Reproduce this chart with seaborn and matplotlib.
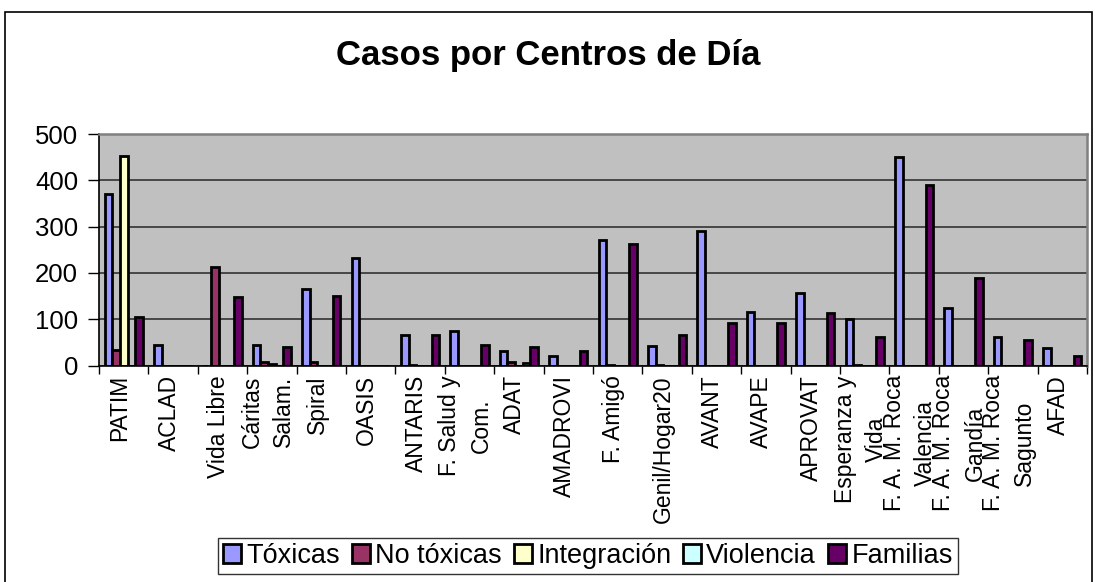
import matplotlib
matplotlib.use("Agg")
import matplotlib.pyplot as plt
import matplotlib.patches as mpatches
import matplotlib.transforms as mtransforms
from matplotlib.ticker import FixedLocator
import seaborn as sns
import pandas as pd
import numpy as np

categories = ["PATIM", "ACLAD", "Vida Libre", "Cáritas\nSalam.", "Spiral", "OASIS",
              "ANTARIS", "F. Salud y\nCom.", "ADAT", "AMADROVI", "F. Amigó",
              "Genil/Hogar20", "AVANT", "AVAPE", "APROVAT", "Esperanza y\nVida",
              "F. A. M. Roca\nValencia", "F. A. M. Roca\nGandía", "F. A. M. Roca\nSagunto", "AFAD"]
series_names = ["Tóxicas", "No tóxicas", "Integración", "Violencia", "Familias"]
toxicas     = [371, 45, 0, 45, 166, 232, 65, 74, 31, 21, 271, 43, 291, 116, 156, 100, 450, 125, 62, 38]
no_toxicas  = [34, 0, 212, 7, 8, 0, 1, 0, 7, 0, 1, 1, 0, 0, 0, 2, 0, 0, 0, 0]
integracion = [452, 0, 0, 4, 0, 0, 0, 0, 0, 0, 0, 0, 0, 0, 0, 0, 0, 0, 0, 0]
violencia   = [0, 0, 0, 0, 0, 0, 0, 0, 6, 0, 0, 0, 0, 0, 0, 0, 0, 0, 0, 0]
familias    = [105, 0, 147, 41, 151, 0, 66, 44, 41, 31, 263, 65, 92, 92, 113, 62, 389, 189, 54, 20]
colors = ["#9999FF", "#993366", "#FFFFCC", "#CCFFFF", "#660066"]
yticks = [0, 100, 200, 300, 400, 500]

values = [toxicas, no_toxicas, integracion, violencia, familias]
rows = []
for name, vals in zip(series_names, values):
    for cat, v in zip(categories, vals):
        rows.append({"Centro": cat, "Serie": name, "Casos": v})
df = pd.DataFrame(rows)

sns.set_style("white")
plt.rcParams['font.family'] = ['Liberation Sans', 'DejaVu Sans']
plt.rcParams['text.color'] = 'black'
plt.rcParams['xtick.color'] = 'black'
plt.rcParams['ytick.color'] = 'black'
plt.rcParams['xtick.labelcolor'] = 'black'
plt.rcParams['ytick.labelcolor'] = 'black'

fig = plt.figure(figsize=(10.95, 5.82), dpi=100)
ax = fig.add_axes([99/1095, 1-365.5/582, (1087-99)/1095, (365.5-134)/582])

sns.barplot(data=df, x="Centro", y="Casos", hue="Serie", order=categories,
            hue_order=series_names, palette=colors, width=0.77,
            edgecolor="black", linewidth=2.0, saturation=1, ax=ax, legend=True)

ax.set_facecolor("#C0C0C0")
ax.set_ylim(0, 500)
ax.set_xlim(-0.5, len(categories) - 0.5)
ax.set_yticks(yticks)
ax.set_yticklabels([str(t) for t in yticks], fontsize=18.5, color="black")
ax.yaxis.grid(True, color="#333333", linewidth=1.2)
ax.set_axisbelow(True)
ax.set_xlabel("")
ax.set_ylabel("")

ax.tick_params(axis="y", which="major", length=8, width=1, color="black", direction="out", pad=7, left=True)
ax.set_xticks(np.arange(len(categories)))
ax.set_xticklabels(categories, rotation=90, fontsize=16.5, linespacing=1.45,
                   ha="center", va="top", color="black")
ax.tick_params(axis="x", which="major", length=0, pad=7)
ax.xaxis.set_minor_locator(FixedLocator(np.arange(len(categories) + 1) - 0.5))
ax.tick_params(axis="x", which="minor", length=6, width=1, color="black", direction="out", bottom=True)
offset = mtransforms.ScaledTranslation(-4/100, 0, fig.dpi_scale_trans)
for lbl in ax.get_xticklabels():
    lbl.set_transform(lbl.get_transform() + offset)
    lbl.set_multialignment("center")

for side in ["left", "bottom"]:
    ax.spines[side].set_color("black")
    ax.spines[side].set_linewidth(1.2)
for side in ["top", "right"]:
    ax.spines[side].set_color("#808080")
    ax.spines[side].set_linewidth(1.8)

fig.text(548/1095, 1-56/582, "Casos por Centros de Día", ha="center", va="center",
         fontsize=25, fontweight="bold", color="black")

handles = [mpatches.Patch(facecolor=c, edgecolor="black", linewidth=2.0) for c in colors]
if ax.get_legend() is not None:
    ax.get_legend().remove()
leg = fig.legend(handles, series_names, loc="center", bbox_to_anchor=(588/1095, 1-556/582),
                 ncol=5, frameon=True, fancybox=False, edgecolor="black", fontsize=19.5,
                 handlelength=0.65, handleheight=0.65, handletextpad=0.2, columnspacing=0.45,
                 borderpad=0.2, borderaxespad=0, labelcolor="black")
leg.get_frame().set_linewidth(1.0)

border = mpatches.Rectangle((5/1095, -0.05), (1092-5)/1095, 1.05-12/582, transform=fig.transFigure,
                            fill=False, edgecolor="black", linewidth=1.2, clip_on=False)
fig.patches.append(border)

fig.savefig("out.png", dpi=100, facecolor="white")
